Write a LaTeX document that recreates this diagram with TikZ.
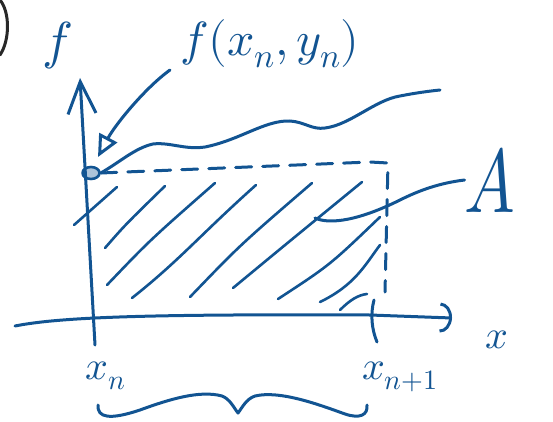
\documentclass[tikz,border=0pt]{standalone}
\usepackage{unicode-math}
\setmathfont{Latin Modern Math}
\usetikzlibrary{arrows.meta,shapes.geometric,calc}
\definecolor{ink}{RGB}{18,84,146}
\definecolor{pen}{RGB}{40,40,40}
\begin{document}
\begin{tikzpicture}[x=1pt,y=-1pt,line cap=round,line join=round,
  stroke/.style={draw=ink,line width=3pt},
  hatch/.style={draw=ink,line width=2.6pt},
  lbl/.style={text=ink,inner sep=0pt,font=\fontsize{40}{40}\selectfont}]
\useasboundingbox (0,0) rectangle (553,422);
% black bracket at the corner
\draw[pen,line width=3pt] (0,0) .. controls (10,12) and (10,40) .. (0,55);
% labels
\node[lbl,font=\fontsize{52}{52}\selectfont] (flabel) at (58,46) {$f$};
\node[lbl,font=\fontsize{48}{48}\selectfont] (fxy) at (270,44) {$f(x_n,y_n)$};
\node[lbl,font=\fontsize{90}{90}\selectfont,xscale=0.75] (Alabel) at (490,180) {$A$};
\node[lbl] (xlabel) at (497,340) {$x$};
\node[lbl] (xn) at (106,376) {$x_n$};
\node[lbl] (xn1) at (400,377) {$x_{n+1}$};
% point
\node[draw=ink,line width=2.6pt,fill=ink!35,ellipse,minimum width=17pt,minimum height=12pt,inner sep=0pt] (dot) at (91,173) {};
% coordinates
\coordinate (ybot) at (95,345);
\coordinate (ytop) at (80,78);
\coordinate (xleft) at (15,326);
\coordinate (xright) at (452,318);
\coordinate (corner) at (388,163);
\coordinate (dashend) at (385,292);
\coordinate (tickA) at (374,300);
\coordinate (tickB) at (377,342);
\coordinate (tipA) at (98,157);
\coordinate (arrstart) at (170,70);
\coordinate (Aend) at (315,218);
% axes
\draw[stroke,-{Straight Barb[length=32pt,width=28pt]}] (ybot) -- (ytop);
\draw[stroke,-{Arc Barb[length=12pt,width=30pt]}] (xleft) .. controls (60,317) and (150,314) .. (370,315) -- (xright);
\draw[stroke] (tickA) .. controls (370,315) and (372,330) .. (tickB);
% dashed rectangle edge
\draw[stroke,dash pattern=on 16pt off 11pt] (dot.east) -- (370,162) -- (corner) -- (dashend);
% function curve
\draw[stroke] (dot.east) .. controls (120,162) and (135,148) .. (153,144)
  .. controls (170,142) and (185,150) .. (205,147)
  .. controls (240,140) and (265,120) .. (290,121)
  .. controls (305,122) and (312,130) .. (325,128)
  .. controls (350,125) and (375,100) .. (400,96)
  .. controls (415,93) and (430,91) .. (440,90);
% arrow to the point
\draw[stroke,-{Triangle[open,length=22pt,width=20pt]}] (arrstart) .. controls (145,88) and (115,125) .. (tipA);
% hatching
\draw[hatch] (74,225) -- (117,187);
\draw[hatch] (105,248) .. controls (125,225) .. (165,186);
\draw[hatch] (107,285) .. controls (150,240) .. (215,183);
\draw[hatch] (132,298) .. controls (180,260) and (200,235) .. (256,185);
\draw[hatch] (190,297) .. controls (240,245) .. (312,183);
\draw[hatch] (233,288) .. controls (285,245) .. (362,182);
\draw[hatch] (278,299) .. controls (330,265) .. (380,217);
\draw[hatch] (320,302) .. controls (355,285) and (365,265) .. (380,245);
\draw[hatch] (340,310) .. controls (350,300) and (358,295) .. (367,294);
% A connector
\draw[stroke] (Aend) .. controls (330,225) and (360,220) .. (400,200) .. controls (420,190) and (440,183) .. (Alabel.west);
% brace
\draw[stroke] (98,405) .. controls (97,418) and (110,420) .. (140,410)
  .. controls (170,399) and (200,390) .. (222,396)
  .. controls (230,399) and (234,408) .. (238,413)
  .. controls (242,408) and (246,399) .. (255,396)
  .. controls (280,390) and (320,405) .. (345,414)
  .. controls (360,419) and (368,415) .. (367,405);
\end{tikzpicture}
\end{document}
